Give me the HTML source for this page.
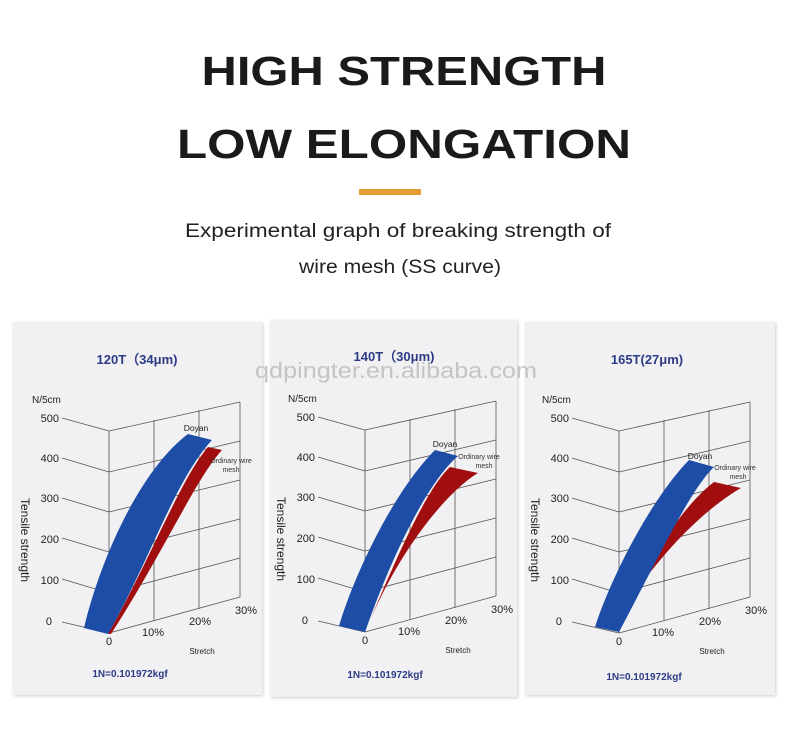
<!DOCTYPE html>
<html><head><meta charset="utf-8"><style>
html,body{margin:0;padding:0;background:#fff;}
svg{display:block;font-family:"Liberation Sans",sans-serif;}
</style></head><body>
<svg width="790" height="741" viewBox="0 0 790 741" xmlns="http://www.w3.org/2000/svg">
<defs>
<filter id="sh" x="-5%" y="-5%" width="110%" height="110%"><feGaussianBlur stdDeviation="1.5"/></filter>
<g id="grid" stroke="#555" stroke-width="0.8" fill="none">
  <line x1="109" y1="431" x2="109" y2="633"/>
  <line x1="154" y1="420" x2="154" y2="621"/>
  <line x1="199" y1="410" x2="199" y2="609"/>
  <line x1="240" y1="402" x2="240" y2="597"/>
  <line x1="62" y1="418" x2="109" y2="431"/><line x1="109" y1="431" x2="240" y2="402"/>
  <line x1="62" y1="458" x2="109" y2="472"/><line x1="109" y1="472" x2="240" y2="441"/>
  <line x1="62" y1="498" x2="109" y2="512"/><line x1="109" y1="512" x2="240" y2="480"/>
  <line x1="62" y1="538" x2="109" y2="552"/><line x1="109" y1="552" x2="240" y2="519"/>
  <line x1="62" y1="579" x2="109" y2="593"/><line x1="109" y1="593" x2="240" y2="558"/>
  <line x1="62" y1="622" x2="109" y2="633"/><line x1="109" y1="633" x2="240" y2="597"/>
</g>
<g id="labels" fill="#222">
  <text x="32" y="403" font-size="10">N/5cm</text>
  <g font-size="11" text-anchor="end">
    <text x="59" y="422">500</text><text x="59" y="462">400</text><text x="59" y="502">300</text>
    <text x="59" y="543">200</text><text x="59" y="584">100</text><text x="52" y="625">0</text>
  </g>
  <text transform="translate(21,540) rotate(90)" font-size="12" text-anchor="middle">Tensile strength</text>
  <g font-size="11" text-anchor="middle">
    <text x="109" y="645">0</text><text x="153" y="636">10%</text><text x="200" y="625">20%</text><text x="246" y="614">30%</text>
  </g>
  <text x="202" y="654" font-size="8" text-anchor="middle">Stretch</text>
</g>
</defs>

<text x="404" y="85" font-size="41" font-weight="bold" text-anchor="middle" fill="#1a1a1a" textLength="405" lengthAdjust="spacingAndGlyphs">HIGH STRENGTH</text>
<text x="404" y="158" font-size="41" font-weight="bold" text-anchor="middle" fill="#1a1a1a" textLength="454" lengthAdjust="spacingAndGlyphs">LOW ELONGATION</text>
<rect x="359" y="189" width="62" height="6" fill="#e39b34"/>
<text x="398" y="237" font-size="19" text-anchor="middle" fill="#222" textLength="426" lengthAdjust="spacingAndGlyphs">Experimental graph of breaking strength of</text>
<text x="400" y="273" font-size="19" text-anchor="middle" fill="#222" textLength="202" lengthAdjust="spacingAndGlyphs">wire mesh (SS curve)</text>

<rect x="14" y="323" width="249" height="373" fill="#ccc" filter="url(#sh)"/>
<rect x="13" y="322" width="249" height="373" fill="#f1f1f3"/>
<rect x="271" y="321" width="247" height="377" fill="#ccc" filter="url(#sh)"/>
<rect x="270" y="320" width="247" height="377" fill="#f1f1f3"/>
<rect x="526" y="323" width="250" height="373" fill="#ccc" filter="url(#sh)"/>
<rect x="525" y="322" width="250" height="373" fill="#f1f1f3"/>

<!-- panel 1 -->
<g>
  <use href="#grid"/>
  <path d="M108,634 C150,560 180,480 208,447 L222,450 C195,480 165,550 111,634 Z" fill="#a00e0f"/>
  <path d="M84,628 C100,560 140,470 188,434 L212,440 C175,480 150,560 108,634 Z" fill="#1d4da6"/>
  <use href="#labels"/>
  <text x="196" y="431" font-size="8.5" text-anchor="middle" fill="#222">Doyan</text>
  <text x="231" y="463" font-size="7" text-anchor="middle" fill="#333">Ordinary wire</text>
  <text x="231" y="472" font-size="7" text-anchor="middle" fill="#333">mesh</text>
  <text x="137" y="364" font-size="13" font-weight="bold" text-anchor="middle" fill="#2d3b86">120T（34μm)</text>
  <text x="130" y="677" font-size="10" font-weight="bold" text-anchor="middle" fill="#2d3b86">1N=0.101972kgf</text>
</g>

<!-- panel 2 -->
<g transform="translate(256,-1)">
  <use href="#grid"/>
  <path d="M109,633 C140,560 170,490 194,468 L222,474 C195,490 145,545 109,633 Z" fill="#a00e0f"/>
  <path d="M83,627 C100,570 140,490 179,451 L202,457 C175,480 140,545 109,633 Z" fill="#1d4da6"/>
  <use href="#labels"/>
  <text x="189" y="448" font-size="8.5" text-anchor="middle" fill="#222">Doyan</text>
  <text x="223" y="460" font-size="7" text-anchor="middle" fill="#333">Ordinary wire</text>
  <text x="228" y="469" font-size="7" text-anchor="middle" fill="#333">mesh</text>
  <text x="138" y="362" font-size="13" font-weight="bold" text-anchor="middle" fill="#2d3b86">140T（30μm)</text>
  <text x="129" y="679" font-size="10" font-weight="bold" text-anchor="middle" fill="#2d3b86">1N=0.101972kgf</text>
</g>

<!-- panel 3 -->
<g transform="translate(510,0)">
  <use href="#grid"/>
  <path d="M120,600 C150,540 180,500 204,482 L231,488 C210,500 170,530 127,590 Z" fill="#a00e0f"/>
  <path d="M85,627 C100,580 140,500 179,460 L204,467 C180,490 150,555 109,632 Z" fill="#1d4da6"/>
  <use href="#labels"/>
  <text x="190" y="459" font-size="8.5" text-anchor="middle" fill="#222">Doyan</text>
  <text x="225" y="470" font-size="7" text-anchor="middle" fill="#333">Ordinary wire</text>
  <text x="228" y="479" font-size="7" text-anchor="middle" fill="#333">mesh</text>
  <text x="137" y="364" font-size="13" font-weight="bold" text-anchor="middle" fill="#2d3b86">165T(27μm)</text>
  <text x="134" y="680" font-size="10" font-weight="bold" text-anchor="middle" fill="#2d3b86">1N=0.101972kgf</text>
</g>

<text x="396" y="378" font-size="22" text-anchor="middle" fill="#c4c4c6" textLength="282" lengthAdjust="spacingAndGlyphs">qdpingter.en.alibaba.com</text>
</svg>
</body></html>
